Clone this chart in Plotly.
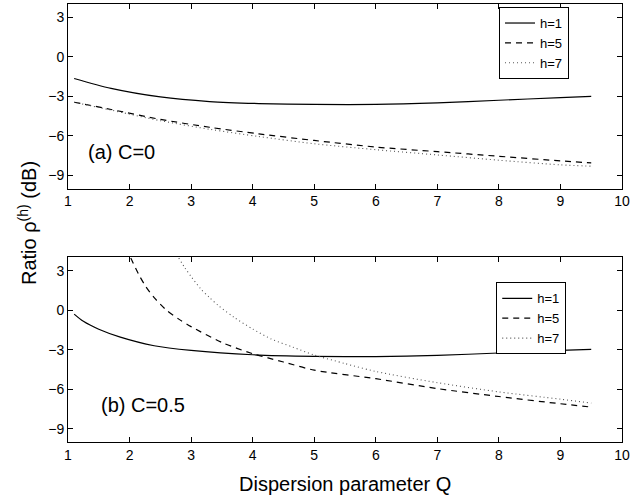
import plotly.graph_objects as go

# ---- data ----
q_top_h1 = [1.1, 1.7, 2.5, 3.3, 4.1, 5.0, 6.0, 7.0, 8.0, 9.0, 9.5]
r_top_h1 = [-1.65, -2.4, -3.05, -3.4, -3.55, -3.62, -3.62, -3.5, -3.3, -3.1, -3.0]
q_top_h5 = [1.1, 1.7, 2.5, 3.3, 4.1, 5.0, 6.0, 7.0, 8.0, 9.0, 9.5]
r_top_h5 = [-3.45, -4.0, -4.75, -5.35, -5.85, -6.35, -6.85, -7.2, -7.55, -7.9, -8.05]
q_top_h7 = [1.1, 1.7, 2.5, 3.3, 4.1, 5.0, 6.0, 7.0, 8.0, 9.0, 9.5]
r_top_h7 = [-3.45, -4.05, -4.85, -5.5, -6.05, -6.6, -7.05, -7.45, -7.85, -8.2, -8.3]

q_bot_h1 = [1.1, 1.25, 1.5, 1.85, 2.4, 3.0, 4.0, 5.0, 6.0, 7.0, 8.0, 9.0, 9.5]
r_bot_h1 = [-0.3, -0.85, -1.45, -2.05, -2.7, -3.05, -3.38, -3.5, -3.52, -3.43, -3.25, -3.05, -2.98]
q_bot_h5 = [2.02, 2.15, 2.26, 2.4, 2.6, 2.8, 3.0, 3.5, 4.0, 4.5, 5.0, 6.0, 7.0, 8.0, 9.0, 9.5]
r_bot_h5 = [3.95, 2.7, 1.82, 0.95, 0.0, -0.68, -1.25, -2.45, -3.3, -3.93, -4.55, -5.2, -5.95, -6.55, -7.1, -7.35]
q_bot_h7 = [2.8, 2.9, 3.0, 3.15, 3.3, 3.45, 3.7, 4.0, 4.3, 4.65, 5.0, 5.5, 6.0, 7.0, 8.0, 9.0, 9.5]
r_bot_h7 = [3.95, 3.2, 2.55, 1.65, 0.95, 0.32, -0.55, -1.43, -2.18, -2.8, -3.4, -4.05, -4.65, -5.5, -6.2, -6.75, -7.05]

legend_names = ["h=1", "h=5", "h=7"]
x_ticks = [1, 2, 3, 4, 5, 6, 7, 8, 9, 10]
y_ticks = [-9, -6, -3, 0, 3]
panel_labels = ["(a) C=0", "(b) C=0.5"]

FONT = "Liberation Sans, Arial, Helvetica, sans-serif"
styles = [dict(color="black", width=1.2, dash="solid"),
          dict(color="black", width=1.2, dash="6px,5px"),
          dict(color="#555555", width=1.1, dash="1px,3px")]

fig = go.Figure()
top = [(q_top_h1, r_top_h1), (q_top_h5, r_top_h5), (q_top_h7, r_top_h7)]
bot = [(q_bot_h1, r_bot_h1), (q_bot_h5, r_bot_h5), (q_bot_h7, r_bot_h7)]
for i, (qx, ry) in enumerate(top):
    fig.add_trace(go.Scatter(x=qx, y=ry, mode="lines", name=legend_names[i],
                             line=dict(shape="spline", smoothing=0.8, **styles[i]),
                             xaxis="x", yaxis="y", legend="legend"))
for i, (qx, ry) in enumerate(bot):
    fig.add_trace(go.Scatter(x=qx, y=ry, mode="lines", name=legend_names[i],
                             line=dict(shape="spline", smoothing=0.8, **styles[i]),
                             xaxis="x2", yaxis="y2", legend="legend2"))

ax_common = dict(showline=True, linecolor="black", linewidth=1, mirror="ticks",
                 ticks="inside", ticklen=5, tickcolor="black", showgrid=False,
                 zeroline=False, ticklabeloverflow="allow",
                 tickfont=dict(family=FONT, size=14, color="black"))

legend_common = dict(bordercolor="black", borderwidth=1, bgcolor="white",
                     font=dict(family=FONT, size=13, color="black"),
                     itemwidth=30, xanchor="left", yanchor="top",
                     tracegroupgap=0)

fig.update_layout(
    width=633, height=499,
    margin=dict(l=68, r=5, t=3, b=57),
    paper_bgcolor="white", plot_bgcolor="white",
    showlegend=True, hovermode=False,
    xaxis=dict(domain=[0, 1], range=[1, 10], tickvals=x_ticks, anchor="y", **ax_common),
    yaxis=dict(domain=[0.5786, 1], range=[-10, 4], tickvals=y_ticks, anchor="x", **ax_common),
    xaxis2=dict(domain=[0, 1], range=[1, 10], tickvals=x_ticks, anchor="y2", **ax_common),
    yaxis2=dict(domain=[0, 0.4214], range=[-10, 4], tickvals=y_ticks, anchor="x2", **ax_common),
    legend=dict(x=0.778, y=0.993, **legend_common),
    legend2=dict(x=0.773, y=0.3645, **legend_common),
    annotations=[
        dict(text=panel_labels[0], xref="x", yref="y", x=1.3, y=-7.2, showarrow=False,
             xanchor="left", yanchor="middle", font=dict(family=FONT, size=20, color="black")),
        dict(text=panel_labels[1], xref="x2", yref="y2", x=1.5, y=-7.2, showarrow=False,
             xanchor="left", yanchor="middle", font=dict(family=FONT, size=20, color="black")),
        dict(text="Ratio ρ<sup>(h)</sup> (dB)", xref="paper", yref="paper",
             x=-0.074, y=0.5, textangle=-90, showarrow=False,
             xanchor="center", yanchor="middle", font=dict(family=FONT, size=20, color="black")),
        dict(text="Dispersion parameter Q", xref="paper", yref="paper",
             x=0.5, y=-0.096, showarrow=False, xanchor="center", yanchor="middle",
             font=dict(family=FONT, size=20, color="black")),
    ],
)

fig.write_html("out.html", config={"displayModeBar": False},
               post_script="document.body.style.margin='0px';")
